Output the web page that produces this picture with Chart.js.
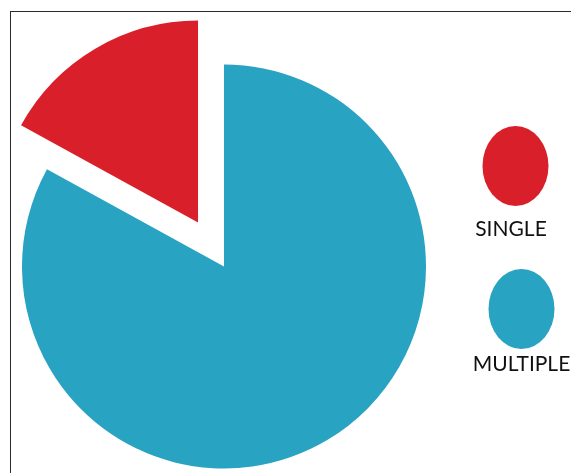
<!DOCTYPE html>
<html>
<head>
<meta charset="utf-8">
<script src="https://cdn.jsdelivr.net/npm/chart.js@4/dist/chart.umd.min.js"></script>
<style>
    html, body { margin: 0; padding: 0; background: #fff; overflow: hidden; }
    #wrap { position: relative; width: 571px; height: 473px; }
    #frame {
        position: absolute; left: 10px; top: 11px; right: 0; bottom: 0;
        border-top: 1px solid #2a2a2a; border-left: 1px solid #2a2a2a;
        pointer-events: none;
    }
    canvas { position: absolute; left: 0; top: 0; }
</style>
</head>
<body>
<div id="wrap">
    <canvas id="pieChart" width="571" height="473"></canvas>
    <div id="frame"></div>
</div>
<script>
// Pie data
const categories = ['SINGLE', 'MULTIPLE'];
const shares = [17, 83];
const sliceColors = ['#d91f29', '#28a3c1'];

// How far the SINGLE slice is pulled out of the pie (px)
const EXPLODE_PX = 51;

document.addEventListener('DOMContentLoaded', function () {
    const total = shares.reduce((a, b) => a + b, 0);

    // Move the first slice out along its middle angle, keeping its radius
    const explodePlugin = {
        id: 'explode',
        afterDatasetUpdate(chart, args) {
            const arc = chart.getDatasetMeta(args.index).data[0];
            if (!arc) return;
            const mid = (arc.startAngle + arc.endAngle) / 2;
            arc.x += Math.cos(mid) * EXPLODE_PX;
            arc.y += Math.sin(mid) * EXPLODE_PX;
        }
    };

    // Hand-placed legend: oval swatch with the label underneath
    const legendSlots = [
        { x: 515.5, y: 166, tx: 511, ty: 236 },
        { x: 521.5, y: 309, tx: 521.5, ty: 371 }
    ];
    const ovalLegend = {
        id: 'ovalLegend',
        afterDraw(chart) {
            const ctx = chart.ctx;
            const ds = chart.data.datasets[0];
            ctx.save();
            chart.data.labels.forEach((label, i) => {
                const s = legendSlots[i];
                ctx.fillStyle = ds.backgroundColor[i];
                ctx.beginPath();
                ctx.ellipse(s.x, s.y, 33, 40, 0, 0, Math.PI * 2);
                ctx.fill();
                ctx.fillStyle = '#111';
                ctx.font = '21px Lato';
                ctx.textAlign = 'center';
                ctx.textBaseline = 'alphabetic';
                ctx.fillText(label, s.tx, s.ty);
            });
            ctx.restore();
        }
    };

    const ctx = document.getElementById('pieChart').getContext('2d');
    new Chart(ctx, {
        type: 'pie',
        data: {
            labels: categories,
            datasets: [{
                data: shares,
                backgroundColor: sliceColors,
                borderWidth: 0,
                hoverBorderWidth: 0,
                hoverOffset: 0
            }]
        },
        options: {
            responsive: false,
            animation: false,
            events: [],
            // SINGLE ends at twelve o'clock
            rotation: -360 * shares[0] / total,
            layout: {
                padding: { left: 22, right: 145, top: 64.5, bottom: 4.5 }
            },
            plugins: {
                legend: { display: false },
                tooltip: { enabled: false }
            }
        },
        plugins: [explodePlugin, ovalLegend]
    });
});
</script>
</body>
</html>
